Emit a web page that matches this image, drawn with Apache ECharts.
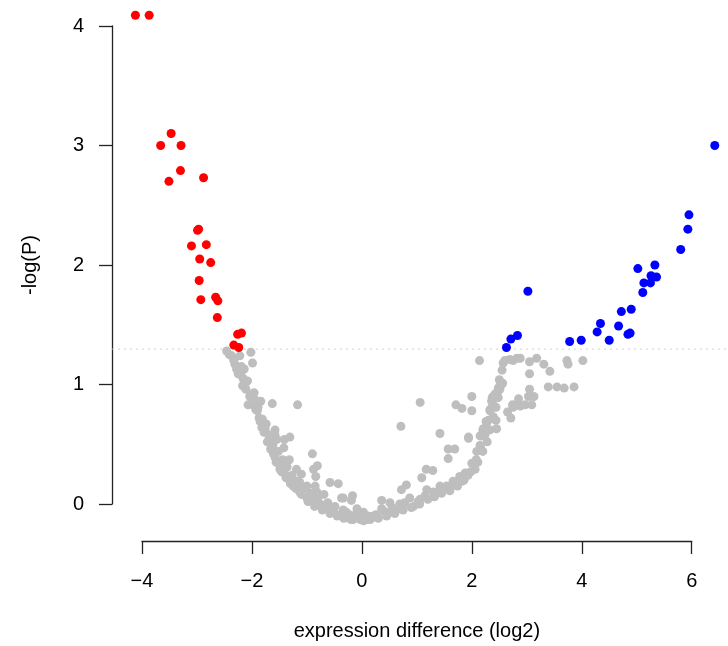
<!DOCTYPE html>
<html>
<head>
<meta charset="utf-8">
<script src="https://cdn.jsdelivr.net/npm/echarts@6/dist/echarts.min.js"></script>
<style>html,body{margin:0;padding:0;background:#fff}#c{width:728px;height:646px}</style>
</head>
<body>
<div id="c"></div>
<script>
// x ticks / y ticks
const xTicks = [-4, -2, 0, 2, 4, 6];
const yTicks = [0, 1, 2, 3, 4];
const threshold = 1.3;
const plotXRange = [-4.54, 6.82];   // full plotting region (R's usr range)
const xLabel = 'expression difference (log2)';
const yLabel = '-log(P)';

// significant, down (red): [log2 diff, -log(P)]
const downPoints = [
  [-4.12,4.09],[-3.87,4.09],[-3.47,3.10],[-3.66,3.00],[-3.29,3.00],[-3.30,2.79],
  [-3.51,2.70],[-2.88,2.73],[-2.99,2.29],[-2.97,2.30],[-3.10,2.16],[-2.83,2.17],
  [-2.95,2.05],[-2.75,2.02],[-2.96,1.87],[-2.93,1.71],[-2.66,1.73],[-2.62,1.70],
  [-2.63,1.56],[-2.26,1.42],[-2.19,1.43],[-2.33,1.33],[-2.24,1.31]
];

// significant, up (blue)
const upPoints = [
  [2.63,1.31],[2.71,1.38],[2.83,1.41],[3.02,1.78],[3.78,1.36],[3.99,1.37],
  [4.28,1.44],[4.34,1.51],[4.50,1.37],[4.67,1.49],[4.72,1.61],[4.84,1.42],
  [4.88,1.43],[4.90,1.63],[5.02,1.97],[5.11,1.77],[5.13,1.85],[5.25,1.85],
  [5.26,1.91],[5.36,1.90],[5.33,2.00],[5.80,2.13],[5.93,2.30],[5.95,2.42],
  [6.42,3.00]
];

// not significant (grey)
const nsPoints = [
  [-2.46,1.28],[-2.41,1.25],[-2.37,1.24],[-2.22,1.24],[-2.02,1.27],[-2.31,1.17],
  [-2.28,1.13],[-2.19,1.15],[-2.14,1.13],[-1.99,1.18],[-2.16,1.05],[-2.08,1.03],
  [-2.17,0.99],[-2.00,0.92],[-1.96,0.93],[-2.07,0.83],[-1.98,0.83],[-1.84,0.86],
  [-1.63,0.84],[-1.17,0.83],[-1.90,0.78],[-1.87,0.72],[-1.81,0.71],[-1.82,0.64],
  [-1.76,0.63],[-1.58,0.62],[-1.58,0.58],[-1.55,0.54],[-1.41,0.54],[-1.31,0.56],
  [-1.62,0.49],[-1.42,0.47],[-1.61,0.42],[-0.90,0.42],[-1.56,0.35],[-1.32,0.37],
  [-1.49,0.29],[-1.40,0.25],[-1.19,0.29],[-1.10,0.25],[-0.88,0.29],[-0.81,0.32],
  [-0.84,0.23],[-1.34,0.21],[-1.25,0.15],[-1.13,0.18],[-1.00,0.15],[-0.85,0.15],
  [-0.82,0.10],[-0.58,0.18],[-0.43,0.17],[-0.69,0.08],[-1.13,0.10],[-1.00,0.05],
  [-0.88,0.03],[-0.76,0.00],[-0.64,-0.03],[-0.52,-0.06],[-0.37,0.05],[-0.17,0.07],
  [-0.19,0.03],[-0.40,-0.09],[-0.28,-0.11],[-0.16,-0.13],[-0.03,-0.13],[0.09,-0.13],
  [-0.09,-0.07],[0.03,-0.07],[0.21,-0.10],
  [-0.34,0.05],[-0.28,-0.07],[-0.09,-0.04],[-0.03,-0.10],[0.03,-0.14],[0.21,-0.11],
  [0.36,0.03],[0.36,-0.04],[0.51,0.01],[0.51,-0.07],[0.72,0.12],[0.81,0.16],
  [0.69,0.00],[0.87,0.05],[0.94,-0.02],[1.06,0.04],[1.09,0.22],[1.17,0.29],
  [1.29,0.28],[1.18,0.12],[1.30,0.10],[1.42,0.15],[1.54,0.15],[1.66,0.19],
  [1.78,0.23],[1.88,0.26],[2.00,0.34],[1.42,0.11],[0.71,0.65],[1.06,0.85],
  [1.42,0.59],[1.57,0.46],[1.69,0.46],[1.57,0.38],[1.94,0.55],[1.71,0.83],
  [1.82,0.80],[2.00,0.78],[2.00,0.90],[2.09,0.44],[2.15,0.49],[2.15,0.57],
  [2.20,0.62],[2.26,0.69],[2.33,0.79],[2.36,0.86],[2.39,0.90],[2.48,0.97],
  [2.54,1.00],[2.44,0.70],[2.45,0.63],[2.65,0.77],[2.71,0.72],[2.75,0.81],
  [2.82,0.83],[2.14,1.20],[2.60,1.20],[2.75,1.20],[2.88,1.22],
  [2.69,1.21],[2.82,1.22],[3.05,1.19],[3.18,1.22],[3.31,1.17],[3.42,1.11],
  [3.05,1.09],[3.73,1.20],[3.75,1.17],[4.02,1.20],[2.51,0.99],[2.56,1.01],
  [2.47,0.94],[3.05,0.96],[3.39,0.98],[3.55,0.98],[3.68,0.97],[3.86,0.98],
  [2.37,0.89],[2.39,0.83],[2.85,0.88],[3.03,0.90],[3.13,0.90],[2.74,0.83],
  [2.97,0.83],[3.09,0.83],[2.88,0.82],[2.33,0.78],[2.27,0.68],[2.21,0.63],
  [1.94,0.56],[2.18,0.57],
  [-2.25,1.09],[-2.11,0.96],[-1.94,0.87],[-1.89,0.81],[-1.74,0.67],[-1.70,0.58],
  [-1.66,0.54],[-1.52,0.44],[-1.44,0.37],[-1.36,0.31],[-1.27,0.24],[-1.18,0.19],
  [-1.05,0.13],[-0.94,0.09],[-0.80,0.05],[-0.62,0.01],[-0.49,-0.02],[-0.34,-0.05],
  [-0.23,-0.09],[-0.09,-0.11],[0.11,-0.10],[0.26,-0.09],[0.40,-0.06],[0.55,-0.03],
  [0.66,-0.04],[0.78,0.01],[1.02,0.02],[1.15,0.07],[1.35,0.09],[1.57,0.13],
  [1.69,0.16],[1.82,0.19],[1.93,0.24],[2.06,0.29],[2.11,0.35],[2.20,0.44],
  [2.28,0.52],[2.33,0.62],[2.39,0.73],[2.44,0.81],[2.48,0.89],[2.51,0.96],
  [-2.33,1.20],[-2.20,1.08],[-2.12,1.01],[-2.04,0.90],[-1.93,0.79],[-1.85,0.69],
  [-1.78,0.60],[-1.72,0.52],[-1.66,0.46],[-1.58,0.39],[-1.50,0.33],[-1.46,0.27],
  [-1.38,0.22],[-1.30,0.17],[-1.20,0.13],[-1.10,0.08],[-0.98,0.02],[-0.86,-0.02],
  [-0.72,-0.05],[-0.58,-0.08],[-0.45,-0.10],[-0.33,-0.12],[-0.20,-0.13],[0.15,-0.13],
  [0.30,-0.12],[0.45,-0.10],[0.60,-0.08],[0.75,-0.05],[0.90,-0.03],[1.05,0.00],
  [1.20,0.04],[1.32,0.06],[1.45,0.09],[1.60,0.11],[1.74,0.15],[1.86,0.20],
  [1.98,0.27],[2.08,0.37],[2.16,0.47],[2.24,0.58],[2.30,0.70],[2.36,0.80],
  [2.42,0.92],[2.50,1.04],[2.55,1.12],[2.57,1.18]
];

const FONT = '"Liberation Sans", Arial, Helvetica, sans-serif';
const fmt = v => (v < 0 ? '\u2212' + Math.abs(v) : String(v));
const PX_PER_UNIT = 54.97;

const chart = echarts.init(document.getElementById('c'), null, {renderer: 'canvas'});
chart.setOption({
  animation: false,
  backgroundColor: '#fff',
  grid: [
    {left: 142, right: 36.3, top: 26, bottom: 141.2, containLabel: false},
    // full plotting region, same scale, hidden axes (for the threshold line)
    {left: 142 + (plotXRange[0] - xTicks[0]) * PX_PER_UNIT,
     width: (plotXRange[1] - plotXRange[0]) * PX_PER_UNIT,
     top: 26, bottom: 141.2, containLabel: false}
  ],
  xAxis: [{
    type: 'value', min: xTicks[0], max: xTicks[xTicks.length - 1], interval: 2,
    offset: 37, gridIndex: 0,
    splitLine: {show: false},
    axisLine: {show: true, onZero: false, lineStyle: {color: '#222', width: 1.3}},
    axisTick: {show: true, inside: false, length: 13, lineStyle: {color: '#222', width: 1.3}},
    axisLabel: {margin: 30, fontSize: 20, color: '#000', fontFamily: FONT, formatter: fmt},
    name: xLabel, nameLocation: 'middle', nameGap: 80,
    nameTextStyle: {fontSize: 20, color: '#000', fontFamily: FONT}
  }, {
    type: 'value', gridIndex: 1, min: plotXRange[0], max: plotXRange[1], show: false
  }],
  yAxis: [{
    type: 'value', min: yTicks[0], max: yTicks[yTicks.length - 1], interval: 1,
    offset: 30, gridIndex: 0,
    splitLine: {show: false},
    axisLine: {show: true, onZero: false, lineStyle: {color: '#222', width: 1.3}},
    axisTick: {show: true, inside: false, length: 13, lineStyle: {color: '#222', width: 1.3}},
    axisLabel: {margin: 28, fontSize: 20, color: '#000', fontFamily: FONT, formatter: fmt},
    name: yLabel, nameLocation: 'middle', nameGap: 72, nameRotate: 90,
    nameTextStyle: {fontSize: 20, color: '#000', fontFamily: FONT}
  }, {
    type: 'value', gridIndex: 1, min: yTicks[0], max: yTicks[yTicks.length - 1], show: false
  }],
  series: [
    {
      type: 'line', xAxisIndex: 1, yAxisIndex: 1,
      data: plotXRange.map(x => [x, threshold]), clip: false,
      symbol: 'none', silent: true, z: 1,
      lineStyle: {color: '#cfcfcf', type: [1.5, 4.5], width: 1.2}
    },
    {type: 'scatter', data: nsPoints, symbolSize: 9, clip: false, z: 2, itemStyle: {color: '#BEBEBE', opacity: 1}},
    {type: 'scatter', data: downPoints, symbolSize: 9, clip: false, z: 3, itemStyle: {color: '#FF0000', opacity: 1}},
    {type: 'scatter', data: upPoints, symbolSize: 9, clip: false, z: 3, itemStyle: {color: '#0000FF', opacity: 1}}
  ]
});
</script>
</body>
</html>
